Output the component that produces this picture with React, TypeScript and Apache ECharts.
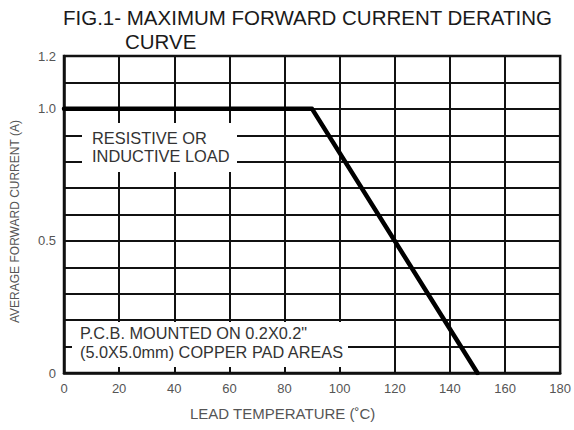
import React, { useEffect, useRef } from "react";
import * as echarts from "echarts";

// Derating curve data (lead temperature °C vs average forward current A)
const tempPoints = [0, 90, 150];
const currentPoints = [1.0, 1.0, 0];

// Axis definitions
const xMin = 0;
const xMax = 180;
const xStep = 20;
const yMin = 0;
const yMax = 1.2;
const yStep = 0.1;
const yLabelValues = ["0", "0.5", "1.0", "1.2"];

const titleLines = ["FIG.1- MAXIMUM FORWARD CURRENT DERATING", "CURVE"];
const xAxisName = "LEAD TEMPERATURE (˚C)";
const yAxisName = "AVERAGE FORWARD CURRENT (A)";
const noteLoad = ["RESISTIVE OR", "INDUCTIVE LOAD"];
const notePcb = ["P.C.B. MOUNTED ON 0.2X0.2\"", "(5.0X5.0mm) COPPER PAD AREAS"];

const FONT = "Liberation Sans, Arial, Helvetica, sans-serif";

export default function App() {
  const ref = useRef<HTMLDivElement>(null);

  useEffect(() => {
    if (!ref.current) return;
    const chart = echarts.init(ref.current, undefined, { renderer: "svg" });
    const seriesData = tempPoints.map((t, i) => [t, currentPoints[i]]);

    chart.setOption({
      animation: false,
      backgroundColor: "#ffffff",
      grid: {
        left: 64,
        right: 11,
        top: 56,
        bottom: 57,
        show: true,
        borderColor: "#111",
        borderWidth: 2.5,
        backgroundColor: "transparent",
      },
      xAxis: {
        type: "value",
        min: xMin,
        max: xMax,
        interval: xStep,
        axisLine: { show: true, lineStyle: { color: "#111", width: 2.5 } },
        axisTick: { show: false },
        axisLabel: {
          color: "#555",
          fontFamily: FONT,
          fontSize: 13,
          margin: 9,
          showMinLabel: true,
          showMaxLabel: true,
        },
        splitLine: { show: true, lineStyle: { color: "#111", width: 2 } },
      },
      yAxis: {
        type: "value",
        min: yMin,
        max: yMax,
        interval: yStep,
        axisLine: { show: true, lineStyle: { color: "#111", width: 2.5 } },
        axisTick: { show: false },
        axisLabel: {
          color: "#555",
          fontFamily: FONT,
          fontSize: 13,
          margin: 8,
          showMinLabel: true,
          showMaxLabel: true,
          formatter: (v: number) => {
            const s = Math.abs(v) < 1e-9 ? "0" : v.toFixed(1);
            return yLabelValues.includes(s) ? s : "";
          },
        },
        splitLine: { show: true, lineStyle: { color: "#111", width: 2 } },
      },
      series: [
        {
          type: "line",
          data: seriesData,
          showSymbol: false,
          symbol: "none",
          z: 10,
          lineStyle: { color: "#000", width: 4.5, cap: "round", join: "round" },
        },
      ],
      graphic: [
        {
          type: "text",
          left: 63,
          top: 7,
          z: 5,
          style: {
            text: titleLines[0],
            fill: "#1a1a1a",
            font: `20.5px ${FONT}`,
          },
        },
        {
          type: "text",
          left: 125,
          top: 31,
          z: 5,
          style: {
            text: titleLines[1],
            fill: "#1a1a1a",
            font: `20.5px ${FONT}`,
          },
        },
        {
          type: "rect",
          z: 3,
          shape: { x: 82, y: 123, width: 155, height: 49 },
          style: { fill: "#ffffff" },
        },
        {
          type: "text",
          z: 5,
          x: 92,
          y: 129,
          style: {
            text: noteLoad.join("\n"),
            fill: "#333",
            font: `16.4px ${FONT}`,
            lineHeight: 18,
          },
        },
        {
          type: "rect",
          z: 3,
          shape: { x: 72, y: 322, width: 276, height: 45 },
          style: { fill: "#ffffff" },
        },
        {
          type: "text",
          z: 5,
          x: 80,
          y: 323,
          style: {
            text: notePcb.join("\n"),
            fill: "#333",
            font: `16.3px ${FONT}`,
            lineHeight: 19,
          },
        },
        {
          type: "text",
          z: 5,
          x: 190,
          y: 406,
          style: {
            text: xAxisName,
            fill: "#555",
            font: `15px ${FONT}`,
          },
        },
        {
          type: "text",
          z: 5,
          x: 9,
          y: 323,
          rotation: Math.PI / 2,
          style: {
            text: yAxisName,
            fill: "#555",
            font: `12px ${FONT}`,
          },
        },
      ],
    });

    return () => chart.dispose();
  }, []);

  return (
    <div
      ref={ref}
      style={{ position: "fixed", left: 0, top: 0, width: 574, height: 430 }}
    />
  );
}
